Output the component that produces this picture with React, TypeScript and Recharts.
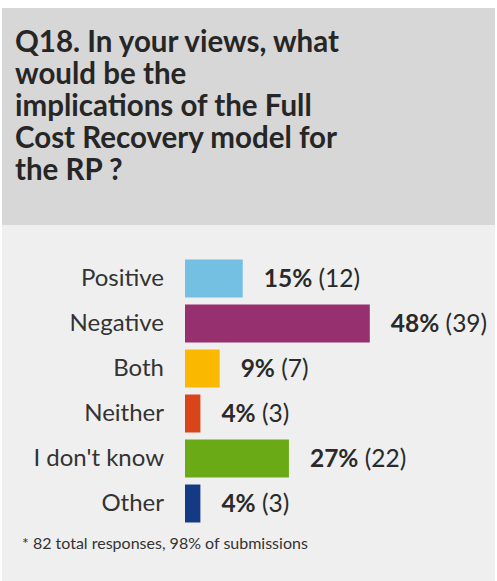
import React from 'react';
import { BarChart, Bar, XAxis, YAxis, Cell, LabelList } from 'recharts';

const categories = ['Positive', 'Negative', 'Both', 'Neither', "I don't know", 'Other'];
const percents = [15, 48, 9, 4, 27, 4];
const counts = [12, 39, 7, 3, 22, 3];
const colors = ['#74c0e3', '#97306f', '#fbb800', '#d9441a', '#6aaa16', '#143a86'];

const titleLines = [
  'Q18. In your views, what',
  'would be the',
  'implications of the Full',
  'Cost Recovery model for',
  'the RP ?',
];
const footnote = '* 82 total responses, 98% of submissions';

const FONT = 'Lato, "Open Sans", sans-serif';

const data = categories.map((name, i) => ({
  name,
  value: percents[i],
  count: counts[i],
  color: colors[i],
}));

const CategoryTick = (props: any) => {
  const { x, y, payload } = props;
  return (
    <text x={x} y={y + 8} textAnchor="end" fontFamily={FONT} fontSize={24} fill="#333">
      {payload.value}
    </text>
  );
};

const ValueLabel = (props: any) => {
  const { x, y, width, height, index } = props;
  const d = data[index];
  return (
    <text x={x + width + 21} y={y + height / 2 + 8} fontFamily={FONT} fontSize={24.5} fill="#2a2a2a">
      <tspan fontWeight="bold">{d.value}%</tspan>
      <tspan> ({d.count})</tspan>
    </text>
  );
};

const App = () => {
  return (
    <div style={{ position: 'absolute', left: 0, top: 0, width: 497, height: 581, background: '#fff', overflow: 'hidden' }}>
      <div style={{ position: 'absolute', left: 2, top: 8, width: 493, height: 217, background: '#d7d7d7' }} />
      <div style={{ position: 'absolute', left: 2, top: 225, width: 493, height: 356, background: '#efefef' }} />
      <div
        style={{
          position: 'absolute',
          left: 15,
          top: 25,
          fontFamily: FONT,
          fontWeight: 'bold',
          fontSize: 29.5,
          lineHeight: '32px',
          color: '#262626',
          whiteSpace: 'nowrap',
        }}
      >
        {titleLines.map((l, i) => (
          <div key={i}>{l}</div>
        ))}
      </div>
      <div style={{ position: 'absolute', left: 0, top: 0 }}>
        <BarChart
          width={497}
          height={581}
          layout="vertical"
          data={data}
          margin={{ top: 255.5, right: 42.5, bottom: 55.5, left: 0 }}
        >
          <XAxis type="number" domain={[0, 70]} hide />
          <YAxis
            type="category"
            dataKey="name"
            width={185}
            axisLine={false}
            tickLine={false}
            tickSize={0}
            tickMargin={21}
            tick={<CategoryTick />}
            interval={0}
          />
          <Bar dataKey="value" barSize={38} isAnimationActive={false}>
            {data.map((d, i) => (
              <Cell key={`cell-${i}`} fill={d.color} />
            ))}
            <LabelList dataKey="value" content={<ValueLabel />} />
          </Bar>
        </BarChart>
      </div>
      <div
        style={{
          position: 'absolute',
          left: 22,
          top: 533,
          fontFamily: FONT,
          fontSize: 16,
          lineHeight: '19px',
          color: '#333',
          whiteSpace: 'nowrap',
        }}
      >
        {footnote}
      </div>
    </div>
  );
};

export default App;
